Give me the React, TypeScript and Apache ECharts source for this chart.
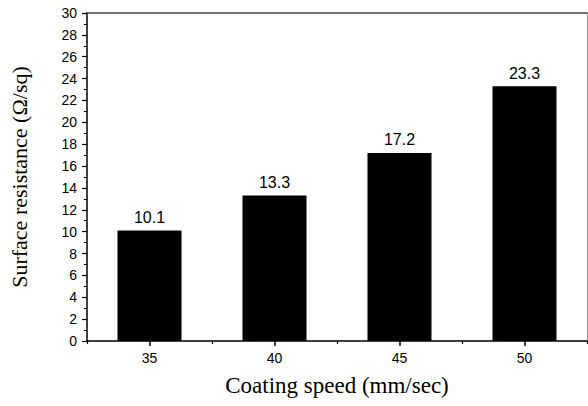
import React, { useEffect, useRef } from "react";
import * as echarts from "echarts";

const categories = ["35", "40", "45", "50"];
const resistance = [10.1, 13.3, 17.2, 23.3];
const yMin = 0;
const yMax = 30;
const yInterval = 2;

export default function App() {
  const ref = useRef<HTMLDivElement>(null);
  useEffect(() => {
    if (!ref.current) return;
    const chart = echarts.init(ref.current, null, { renderer: "svg" });
    const sans = "'Liberation Sans', Arial, sans-serif";
    const serif = "'Liberation Serif', 'Times New Roman', serif";
    chart.setOption({
      animation: false,
      grid: { left: 86, top: 13, right: 1, bottom: 65 },
      xAxis: [
        {
          type: "category",
          data: categories,
          position: "bottom",
          axisLine: { show: true, lineStyle: { color: "#000", width: 1.5 } },
          axisTick: { show: true, inside: false, alignWithLabel: true, length: 5, lineStyle: { color: "#000", width: 1.5 } },
          axisLabel: { color: "#000", fontFamily: sans, fontSize: 14, margin: 10 },
          name: "Coating speed (mm/sec)",
          nameLocation: "middle",
          nameGap: 33,
          nameTextStyle: { color: "#000", fontFamily: serif, fontSize: 23 },
        },
        {
          type: "category",
          data: categories,
          position: "bottom",
          gridIndex: 0,
          axisLine: { show: false },
          axisTick: { show: true, inside: false, length: 3, lineStyle: { color: "#000", width: 1.2 } },
          axisLabel: { show: false },
        },
        {
          type: "category",
          data: categories,
          position: "top",
          axisLine: { show: true, lineStyle: { color: "#444", width: 1.5 } },
          axisTick: { show: false },
          axisLabel: { show: false },
        },
      ],
      yAxis: [
        {
          type: "value",
          min: yMin,
          max: yMax,
          interval: yInterval,
          position: "left",
          axisLine: { show: true, lineStyle: { color: "#000", width: 1.5 } },
          axisTick: { show: true, inside: false, length: 5, lineStyle: { color: "#000", width: 1.2 } },
          minorTick: { show: true, splitNumber: 2, length: 3, lineStyle: { color: "#000", width: 1 } },
          splitLine: { show: false },
          axisLabel: { color: "#000", fontFamily: sans, fontSize: 14, margin: 10 },
          name: "Surface resistance (Ω/sq)",
          nameLocation: "middle",
          nameGap: 57,
          nameTextStyle: { color: "#000", fontFamily: serif, fontSize: 22 },
        },
        {
          type: "value",
          min: yMin,
          max: yMax,
          interval: yInterval,
          position: "right",
          axisLine: { show: true, lineStyle: { color: "#999", width: 1.2 } },
          axisTick: { show: false },
          minorTick: { show: false },
          axisLabel: { show: false },
          splitLine: { show: false },
        },
      ],
      series: [
        {
          type: "bar",
          data: resistance,
          xAxisIndex: 0,
          yAxisIndex: 0,
          barWidth: 64,
          itemStyle: { color: "#000" },
          label: {
            show: true,
            position: "top",
            distance: 5,
            color: "#000",
            fontFamily: sans,
            fontSize: 16,
          },
        },
      ],
    });
    return () => chart.dispose();
  }, []);
  return <div ref={ref} style={{ width: 588, height: 406, position: "fixed", left: 0, top: 0, background: "#fff" }} />;
}
